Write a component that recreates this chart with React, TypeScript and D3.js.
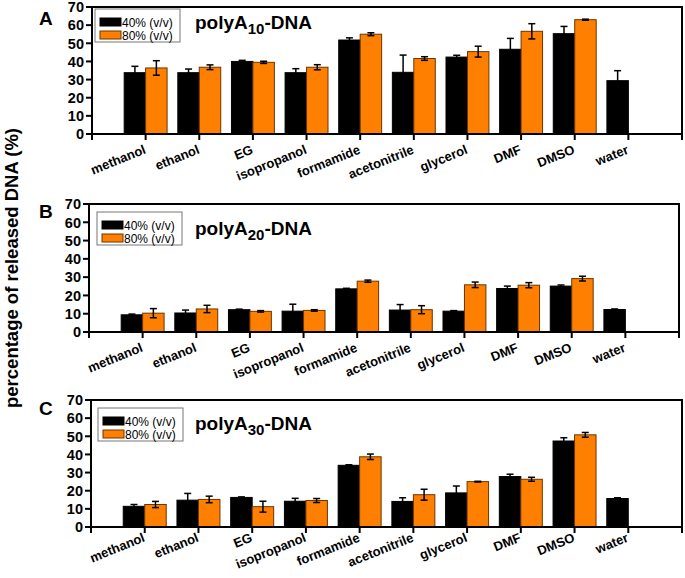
import React from "react";
import * as d3 from "d3";

const categories = ["methanol", "ethanol", "EG", "isopropanol", "formamide", "acetonitrile", "glycerol", "DMF", "DMSO", "water"];
const seriesNames = ["40% (v/v)", "80% (v/v)"];
const yTicks = [0, 10, 20, 30, 40, 50, 60, 70];

const a40 = [33.8, 33.8, 40.0, 33.8, 51.8, 34.0, 42.4, 46.7, 55.3, 29.4];
const a40err = [3.5, 2.0, 0.6, 2.2, 1.2, 9.5, 1.0, 6.0, 4.0, 5.5];
const a80 = [36.4, 36.8, 39.5, 36.8, 55.0, 41.6, 45.4, 56.6, 63.0, null];
const a80err = [4.0, 1.3, 0.6, 1.4, 0.8, 1.0, 3.0, 4.2, 0.3, null];

const b40 = [9.4, 10.4, 12.2, 11.4, 23.6, 12.0, 11.4, 23.8, 25.1, 12.3];
const b40err = [0.4, 1.6, 0.3, 3.8, 0.3, 3.0, 0.3, 1.3, 0.6, 0.3];
const b80 = [10.3, 12.6, 11.3, 11.8, 27.8, 12.2, 25.8, 25.6, 29.2, null];
const b80err = [2.5, 2.0, 0.4, 0.4, 0.6, 2.2, 1.5, 1.4, 1.3, null];

const c40 = [11.4, 14.8, 16.3, 14.2, 34.0, 14.1, 18.8, 27.8, 47.4, 15.7];
const c40err = [1.0, 3.7, 0.3, 1.6, 0.3, 2.0, 3.8, 1.3, 1.8, 0.4];
const c80 = [12.4, 15.2, 11.2, 14.6, 38.7, 17.8, 25.0, 26.3, 50.8, null];
const c80err = [1.7, 1.8, 3.0, 1.1, 1.5, 3.0, 0.2, 1.1, 1.3, null];

type Panel = {
  letter: string; sub: string;
  v40: (number | null)[]; e40: (number | null)[];
  v80: (number | null)[]; e80: (number | null)[];
  left: number; right: number; top: number; bottom: number;
  titleY: number; legendY: number; legendX: number; letterY: number; labelDy: number;
};

const panels: Panel[] = [
  { letter: "A", sub: "10", v40: a40, e40: a40err, v80: a80, e80: a80err, left: 92, right: 682, top: 7, bottom: 134, titleY: 29, legendY: 9, legendX: 95, letterY: 25, labelDy: 19 },
  { letter: "B", sub: "20", v40: b40, e40: b40err, v80: b80, e80: b80err, left: 89, right: 679, top: 204, bottom: 332, titleY: 235, legendY: 212, legendX: 97, letterY: 218, labelDy: 19 },
  { letter: "C", sub: "30", v40: c40, e40: c40err, v80: c80, e80: c80err, left: 91, right: 682, top: 400, bottom: 527, titleY: 430, legendY: 408, legendX: 98, letterY: 415, labelDy: 14 },
];

const FONT = "Arial, 'Liberation Sans', Helvetica, sans-serif";
const ORANGE = "#FF8000";
const ORANGE_STROKE = "#6b3500";

function PanelView({ p }: { p: Panel }) {
  const x = d3.scaleLinear().domain([0, categories.length + 1]).range([p.left, p.right]);
  const y = d3.scaleLinear().domain([0, 70]).range([p.bottom, p.top]);
  const bw = 0.4;
  const cap = 3.5;
  const bars: React.ReactNode[] = [];
  const errs: React.ReactNode[] = [];
  categories.forEach((c, i) => {
    const cx = i + 1;
    const series = [
      { v: p.v40[i], e: p.e40[i], x0: cx - bw, fill: "#000", stroke: "#000" },
      { v: p.v80[i], e: p.e80[i], x0: cx, fill: ORANGE, stroke: ORANGE_STROKE },
    ];
    series.forEach((s, k) => {
      if (s.v == null) return;
      const x0 = x(s.x0), x1 = x(s.x0 + bw);
      bars.push(
        <rect key={`b${i}-${k}`} x={x0} y={y(s.v)} width={x1 - x0} height={y(0) - y(s.v)} fill={s.fill} stroke={s.stroke} strokeWidth={1} />
      );
      if (s.e != null) {
        const mx = (x0 + x1) / 2;
        const yt = y(s.v + s.e), yb = y(s.v - s.e);
        errs.push(
          <g key={`e${i}-${k}`} stroke="#000" strokeWidth={1.5}>
            <line x1={mx} x2={mx} y1={yt} y2={yb} />
            <line x1={mx - cap} x2={mx + cap} y1={yt} y2={yt} />
            <line x1={mx - cap} x2={mx + cap} y1={yb} y2={yb} />
          </g>
        );
      }
    });
  });
  const xTickPositions = d3.range(0, categories.length + 2);
  return (
    <g>
      {bars}
      {errs}
      <rect x={p.left} y={p.top} width={p.right - p.left} height={p.bottom - p.top} fill="none" stroke="#000" strokeWidth={2} />
      {yTicks.map((t) => (
        <g key={`yt${t}`}>
          <line x1={p.left - 6} x2={p.left} y1={y(t)} y2={y(t)} stroke="#000" strokeWidth={2} />
          <text x={p.left - 8} y={y(t)} dy="0.36em" textAnchor="end" fontFamily={FONT} fontWeight="bold" fontSize={14.5} fill="#000">{t}</text>
        </g>
      ))}
      {xTickPositions.map((t) => (
        <line key={`xt${t}`} x1={x(t)} x2={x(t)} y1={p.bottom} y2={p.bottom + 6} stroke="#000" strokeWidth={2} />
      ))}
      {categories.map((c, i) => (
        <text key={`xl${i}`} transform={`translate(${x(i + 1) + 1},${p.bottom + p.labelDy}) rotate(-22)`} textAnchor="end" fontFamily={FONT} fontWeight="bold" fontSize={13} fill="#000">{c}</text>
      ))}
      <text x={39} y={p.letterY} fontFamily={FONT} fontWeight="bold" fontSize={19} fill="#000">{p.letter}</text>
      <text x={195} y={p.titleY} fontFamily={FONT} fontWeight="bold" fontSize={19} fill="#000">
        polyA<tspan fontSize={15} dy={5}>{p.sub}</tspan><tspan dy={-5}>-DNA</tspan>
      </text>
      <g transform={`translate(${p.legendX},${p.legendY})`}>
        <rect x={0} y={0} width={85} height={33} fill="#fff" stroke="#777" strokeWidth={1} />
        <rect x={5} y={9} width={21} height={8} fill="#000" stroke="#000" strokeWidth={1} />
        <text x={27} y={17.5} fontFamily={FONT} fontSize={12} fill="#000">{seriesNames[0]}</text>
        <rect x={5} y={22} width={21} height={8} fill={ORANGE} stroke={ORANGE_STROKE} strokeWidth={1} />
        <text x={27} y={30.5} fontFamily={FONT} fontSize={12} fill="#000">{seriesNames[1]}</text>
      </g>
    </g>
  );
}

export default function App() {
  return (
    <svg width={685} height={578} style={{ position: "absolute", left: 0, top: 0, background: "#fff" }}>
      <rect x={0} y={0} width={685} height={578} fill="#fff" />
      {panels.map((p) => <PanelView key={p.letter} p={p} />)}
      <text transform="translate(18,268) rotate(-90)" textAnchor="middle" fontFamily={FONT} fontWeight="bold" fontSize={18.5} fill="#000">percentage of released DNA (%)</text>
    </svg>
  );
}
